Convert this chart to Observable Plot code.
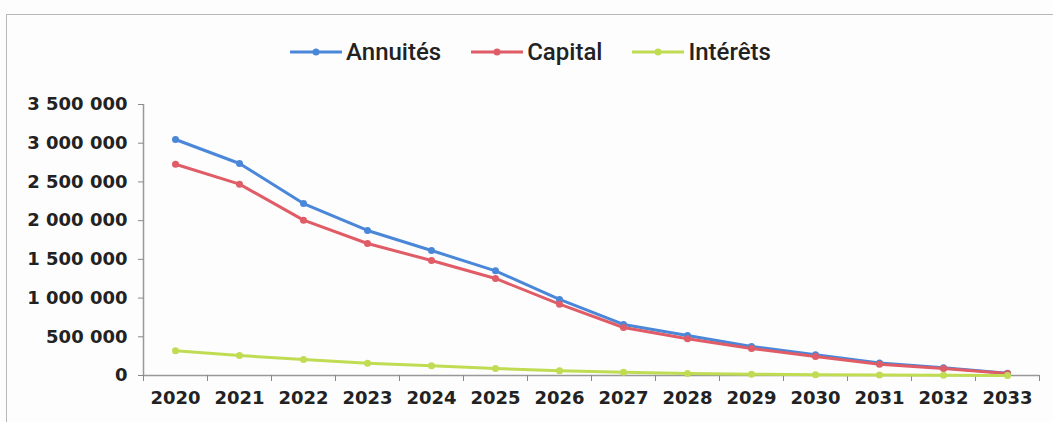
<!DOCTYPE html>
<html>
<head>
<meta charset="utf-8">
<script src="https://cdn.jsdelivr.net/npm/d3@7"></script>
<script src="https://cdn.jsdelivr.net/npm/@observablehq/plot@0.6"></script>
<style>
  html, body { margin: 0; padding: 0; background: #fdfdfd; }
  #wrap { position: relative; width: 1053px; height: 422px; overflow: hidden; }
  #frame { position: absolute; left: 6px; top: 14px; right: -5px; bottom: -5px;
           border-top: 1px solid #b8b8b8; border-left: 1px solid #b8b8b8; }
  #legend { position: absolute; left: 0; top: 0; width: 1053px; height: 80px;
            display: flex; justify-content: center; align-items: center; padding-top: 24px; padding-left: 8px; box-sizing: border-box;
            font-family: Roboto, "Liberation Sans", Arial, sans-serif; font-weight: 500; font-size: 24px; color: #222; }
  .item { display: flex; align-items: center; margin: 0 15px; }
  .item svg { margin-right: 4px; }
  #chart { position: absolute; left: 0; top: 80px; }
</style>
</head>
<body>
<div id="wrap">
  <div id="frame"></div>
  <div id="legend"></div>
  <div id="chart"></div>
</div>
<script>
const years = [2020, 2021, 2022, 2023, 2024, 2025, 2026, 2027, 2028, 2029, 2030, 2031, 2032, 2033];
const annuites = [3048000, 2738000, 2221000, 1873000, 1614000, 1352000, 982000, 659000, 517000, 375000, 267000, 160000, 100000, 30000];
const capital = [2729000, 2471000, 2006000, 1705000, 1485000, 1253000, 921000, 620000, 474000, 349000, 245000, 146000, 90000, 26000];
const interets = [319000, 258000, 207000, 159000, 125000, 90000, 61000, 43000, 26000, 17000, 10000, 6000, 3000, 1000];
const seriesNames = ["Annuités", "Capital", "Intérêts"];
const seriesColors = ["#4a87d9", "#e05c66", "#bfdc52"];
const yTicks = [0, 500000, 1000000, 1500000, 2000000, 2500000, 3000000, 3500000];

const seriesValues = [annuites, capital, interets];
const data = [];
seriesNames.forEach((s, i) => years.forEach((y, j) => data.push({series: s, year: y, value: seriesValues[i][j]})));

const bounds = [years[0] - 0.5, ...years.map(y => y + 0.5)];
const fmt = d => d3.format(",")(d).replace(/,/g, " ");

// legend
const legend = document.getElementById("legend");
seriesNames.forEach((s, i) => {
  const it = document.createElement("div");
  it.className = "item";
  it.innerHTML = `<svg width="52" height="12"><line x1="0" x2="52" y1="6" y2="6" stroke="${seriesColors[i]}" stroke-width="3"/><circle cx="26" cy="6" r="3.5" fill="${seriesColors[i]}"/></svg><span>${s}</span>`;
  legend.appendChild(it);
});

const chart = Plot.plot({
  width: 1053,
  height: 342,
  marginLeft: 143,
  marginRight: 14,
  marginTop: 24,
  marginBottom: 47,
  style: {fontFamily: "'DejaVu Sans', sans-serif", fontSize: "18px", fontWeight: "bold", color: "#222", background: "transparent"},
  x: {domain: [bounds[0], bounds[bounds.length - 1]], axis: null},
  y: {domain: [0, 3500000], axis: null},
  color: {domain: seriesNames, range: seriesColors},
  marks: [
    Plot.ruleY([0], {x1: bounds[0], x2: bounds[bounds.length - 1], stroke: "#999", strokeWidth: 1.5}),
    Plot.ruleX([bounds[0]], {y1: 0, y2: 3500000, stroke: "#999", strokeWidth: 1.5}),
    Plot.axisY(yTicks, {label: null, tickSize: 5, tickPadding: 11, tickFormat: fmt, stroke: "#888", fill: "#222", fontSize: 18}),
    Plot.axisX(bounds, {label: null, tickSize: 6, tickFormat: () => "", stroke: "#888"}),
    Plot.axisX(years, {label: null, tickSize: 0, tickPadding: 16, tickFormat: d => String(d), fill: "#222", fontSize: 18}),
    Plot.line(data, {x: "year", y: "value", z: "series", stroke: "series", strokeWidth: 3}),
    Plot.dot(data, {x: "year", y: "value", fill: "series", r: 3.5})
  ]
});
document.getElementById("chart").appendChild(chart);
</script>
</body>
</html>
